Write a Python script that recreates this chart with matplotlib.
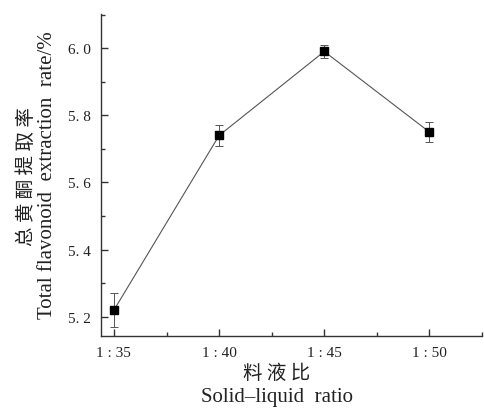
import numpy as np
import matplotlib.pyplot as plt
from matplotlib.ticker import MultipleLocator

ratios = ['1 : 35', '1 : 40', '1 : 45', '1 : 50']
rate = [5.22, 5.74, 5.99, 5.75]
err = [0.05, 0.03, 0.02, 0.03]

serif = ['Liberation Serif', 'Noto Sans CJK SC']
cjk = ['Noto Sans CJK SC', 'DejaVu Sans']

fig = plt.figure(figsize=(4.85, 4.1), dpi=100)
ax = fig.add_axes([0.208, 0.178, 0.786, 0.785])

x = np.arange(len(ratios))
ax.errorbar(x, rate, yerr=err, color='#555555', lw=0.8, elinewidth=0.7,
            capsize=3, capthick=0.7, marker='s', ms=5.5,
            mfc='black', mec='black', zorder=3)

ax.set_xlim(-0.124, 3.5)
ax.set_ylim(5.143, 6.101)
ax.set_xticks(x)
ax.set_xticklabels(ratios, family=serif, fontsize=11)
ax.xaxis.set_minor_locator(MultipleLocator(0.5))
ax.set_yticks([5.2, 5.4, 5.6, 5.8, 6.0])
ax.set_yticklabels(['5. 2', '5. 4', '5. 6', '5. 8', '6. 0'], family=serif, fontsize=11)
ax.yaxis.set_minor_locator(MultipleLocator(0.1))

for s in ['top', 'right']:
    ax.spines[s].set_visible(False)
for s in ['left', 'bottom']:
    ax.spines[s].set_linewidth(1.0)
    ax.spines[s].set_color('#333333')
ax.tick_params(which='major', direction='in', length=5, width=1, colors='#333333', pad=7)
ax.tick_params(which='minor', direction='in', length=3, width=1, colors='#333333')
ax.tick_params(labelcolor='#222222')

fig.text(0.054, 0.57, '总 黄 酮 提 取 率', rotation=90, ha='center', va='center',
         family=cjk, fontsize=14, color='#222222')
fig.text(0.097, 0.573, 'Total flavonoid  extraction  rate/%', rotation=90,
         ha='center', va='center', family=serif, fontsize=15, color='#222222')
fig.text(0.571, 0.09, '料 液 比', ha='center', va='center',
         family=cjk, fontsize=14, color='#222222')
fig.text(0.571, 0.03, 'Solid–liquid  ratio', ha='center', va='center',
         family=serif, fontsize=15, color='#222222')

fig.savefig('out.png', dpi=100)
